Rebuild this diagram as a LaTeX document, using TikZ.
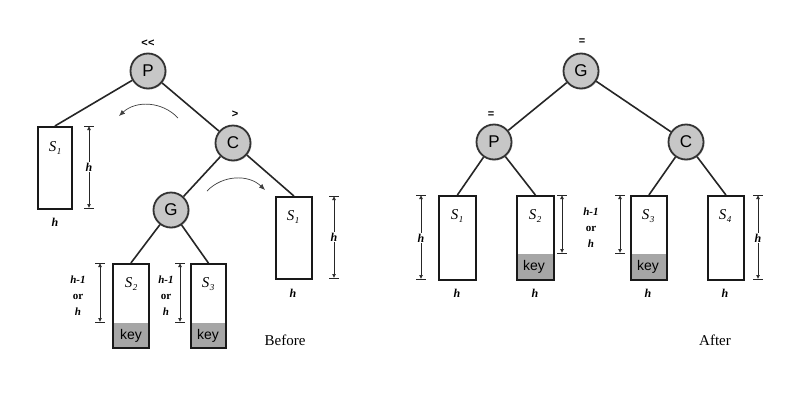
\documentclass[tikz,border=0pt]{standalone}
\usepackage{fontspec}
\setmainfont{Liberation Serif}
\setsansfont{Liberation Sans}
\usetikzlibrary{arrows.meta,shadows}
\newcommand\mydim[3]{%
  \draw[dimln] (#1-5,#2) -- (#1+5,#2);
  \draw[dimln] (#1-5,#3) -- (#1+5,#3);
  \draw[dimln,{Latex[length=4pt,width=4pt]}-{Latex[length=4pt,width=4pt]}] (#1,#2) -- (#1,#3);}
\newcommand\subS[1]{\textit{S}\kern0.5pt\raisebox{-2.5pt}{\fontsize{9}{9}\selectfont\textit{#1}}}
\begin{document}
\begin{tikzpicture}[x=1pt,y=-1pt,
  vert/.style={circle, draw=black!80, line width=1.8pt, fill=black!22, minimum size=35pt, inner sep=0pt,
    font=\sffamily\fontsize{17}{17}\selectfont,
    drop shadow={shadow xshift=1pt,shadow yshift=-1pt,fill=black!40,opacity=0.5}},
  box/.style={draw=black!90, line width=1.8pt, fill=white, inner sep=0pt, anchor=north west,
    drop shadow={shadow xshift=1.5pt,shadow yshift=-1.5pt,fill=black!45,opacity=0.6}},
  keybox/.style={box, path picture={\fill[black!35] (path picture bounding box.south west) rectangle ([yshift=#1]path picture bounding box.south east);}},
  edge/.style={line width=1.6pt, draw=black!85},
  dimln/.style={line width=0.7pt, draw=black!85},
  curv/.style={line width=0.7pt, draw=black!75, -{Latex[length=6pt,width=5pt]}},
  sign/.style={font=\sffamily\bfseries\fontsize{11}{11}\selectfont, inner sep=0pt},
  slab/.style={font=\fontsize{15}{15}\selectfont, inner sep=0pt},
  hlab/.style={font=\bfseries\itshape\fontsize{12}{12}\selectfont, inner sep=1pt},
  hdim/.style={hlab, fill=white},
  orlab/.style={font=\bfseries\fontsize{11}{16}\selectfont, align=center, inner sep=0pt},
  keylab/.style={font=\sffamily\fontsize{14}{14}\selectfont, inner sep=0pt},
  captxt/.style={font=\fontsize{15}{15}\selectfont, inner sep=0pt}]
\useasboundingbox[fill=white] (0,0) rectangle (808,418);

% ---------------- Before ----------------
\node[box, minimum width=34pt, minimum height=82pt] (A1) at (37,126) {};
\node[box, minimum width=36pt, minimum height=82pt] (B1) at (275,196) {};
\node[keybox=25pt, minimum width=36pt, minimum height=84pt] (S2a) at (112,263) {};
\node[keybox=25pt, minimum width=35pt, minimum height=84pt] (S3a) at (190,263) {};

\node[vert] (P1) at (148,71) {P};
\node[vert] (C1) at (233,143) {C};
\node[vert] (G1) at (171,210) {G};
\node[sign] (P1s) at (148,43) {\char`<\kern0.5pt\char`<};
\node[sign] (C1s) at (235,114) {\char`>};

\draw[edge] (P1) -- (A1.north);
\draw[edge] (P1) -- (C1);
\draw[edge] (C1) -- (B1.north);
\draw[edge] (C1) -- (G1);
\draw[edge] (G1) -- (S2a.north);
\draw[edge] (G1) -- (S3a.north);

\coordinate (r1s) at (178,118);
\coordinate (r1e) at (119,116);
\draw[curv] (r1s) to[bend right=45] (r1e);
\coordinate (r2s) at (207,191);
\coordinate (r2e) at (265,190);
\draw[curv] (r2s) to[bend left=45] (r2e);

\node[slab] (A1l) at (55,148) {\subS{1}};
\node[slab] (B1l) at (293,217) {\subS{1}};
\node[slab] (S2al) at (131,284) {\subS{2}};
\node[slab] (S3al) at (208,284) {\subS{3}};
\node[keylab] (S2ak) at (131,336) {key};
\node[keylab] (S3ak) at (208,336) {key};
\node[hlab] (A1h) at (55,222) {h};
\node[hlab] (B1h) at (293,293) {h};

\mydim{89}{126}{208}
\node[hdim] (d1) at (89,167) {h};
\mydim{334}{196}{278}
\node[hdim] (d2) at (334,237) {h};
\mydim{100}{263}{322}
\mydim{180}{263}{322}
\node[orlab] (o1) at (78,296) {\textit{h-1}\\or\\\textit{h}};
\node[orlab] (o2) at (166,296) {\textit{h-1}\\or\\\textit{h}};

\node[captxt] (bef) at (285,340) {Before};

% ---------------- After ----------------
\node[box, minimum width=37pt, minimum height=84pt] (A2) at (438,195) {};
\node[keybox=26pt, minimum width=37pt, minimum height=84pt] (B2) at (516,195) {};
\node[keybox=26pt, minimum width=36pt, minimum height=84pt] (C2b) at (630,195) {};
\node[box, minimum width=36pt, minimum height=84pt] (D2) at (707,195) {};

\node[vert] (G2) at (581,71) {G};
\node[vert] (P2) at (494,142) {P};
\node[vert] (C2) at (686,142) {C};
\node[sign] (G2s) at (582,42) {=};
\node[sign] (P2s) at (491,115) {=};

\draw[edge] (G2) -- (P2);
\draw[edge] (G2) -- (C2);
\draw[edge] (P2) -- (A2.north);
\draw[edge] (P2) -- (B2.north);
\draw[edge] (C2) -- (C2b.north);
\draw[edge] (C2) -- (D2.north);

\node[slab] (A2l) at (457,216) {\subS{1}};
\node[slab] (B2l) at (535,216) {\subS{2}};
\node[slab] (C2l) at (648,216) {\subS{3}};
\node[slab] (D2l) at (725,216) {\subS{4}};
\node[keylab] (B2k) at (534,267) {key};
\node[keylab] (C2k) at (648,267) {key};
\node[hlab] (A2h) at (457,293) {h};
\node[hlab] (B2h) at (535,293) {h};
\node[hlab] (C2h) at (648,293) {h};
\node[hlab] (D2h) at (725,293) {h};

\mydim{421}{195}{279}
\node[hdim] (d3) at (421,238) {h};
\mydim{562}{195}{253}
\mydim{620}{195}{253}
\mydim{758}{195}{279}
\node[hdim] (d4) at (758,238) {h};
\node[orlab] (o3) at (591,228) {\textit{h-1}\\or\\\textit{h}};

\node[captxt] (aft) at (715,340) {After};
\end{tikzpicture}
\end{document}
